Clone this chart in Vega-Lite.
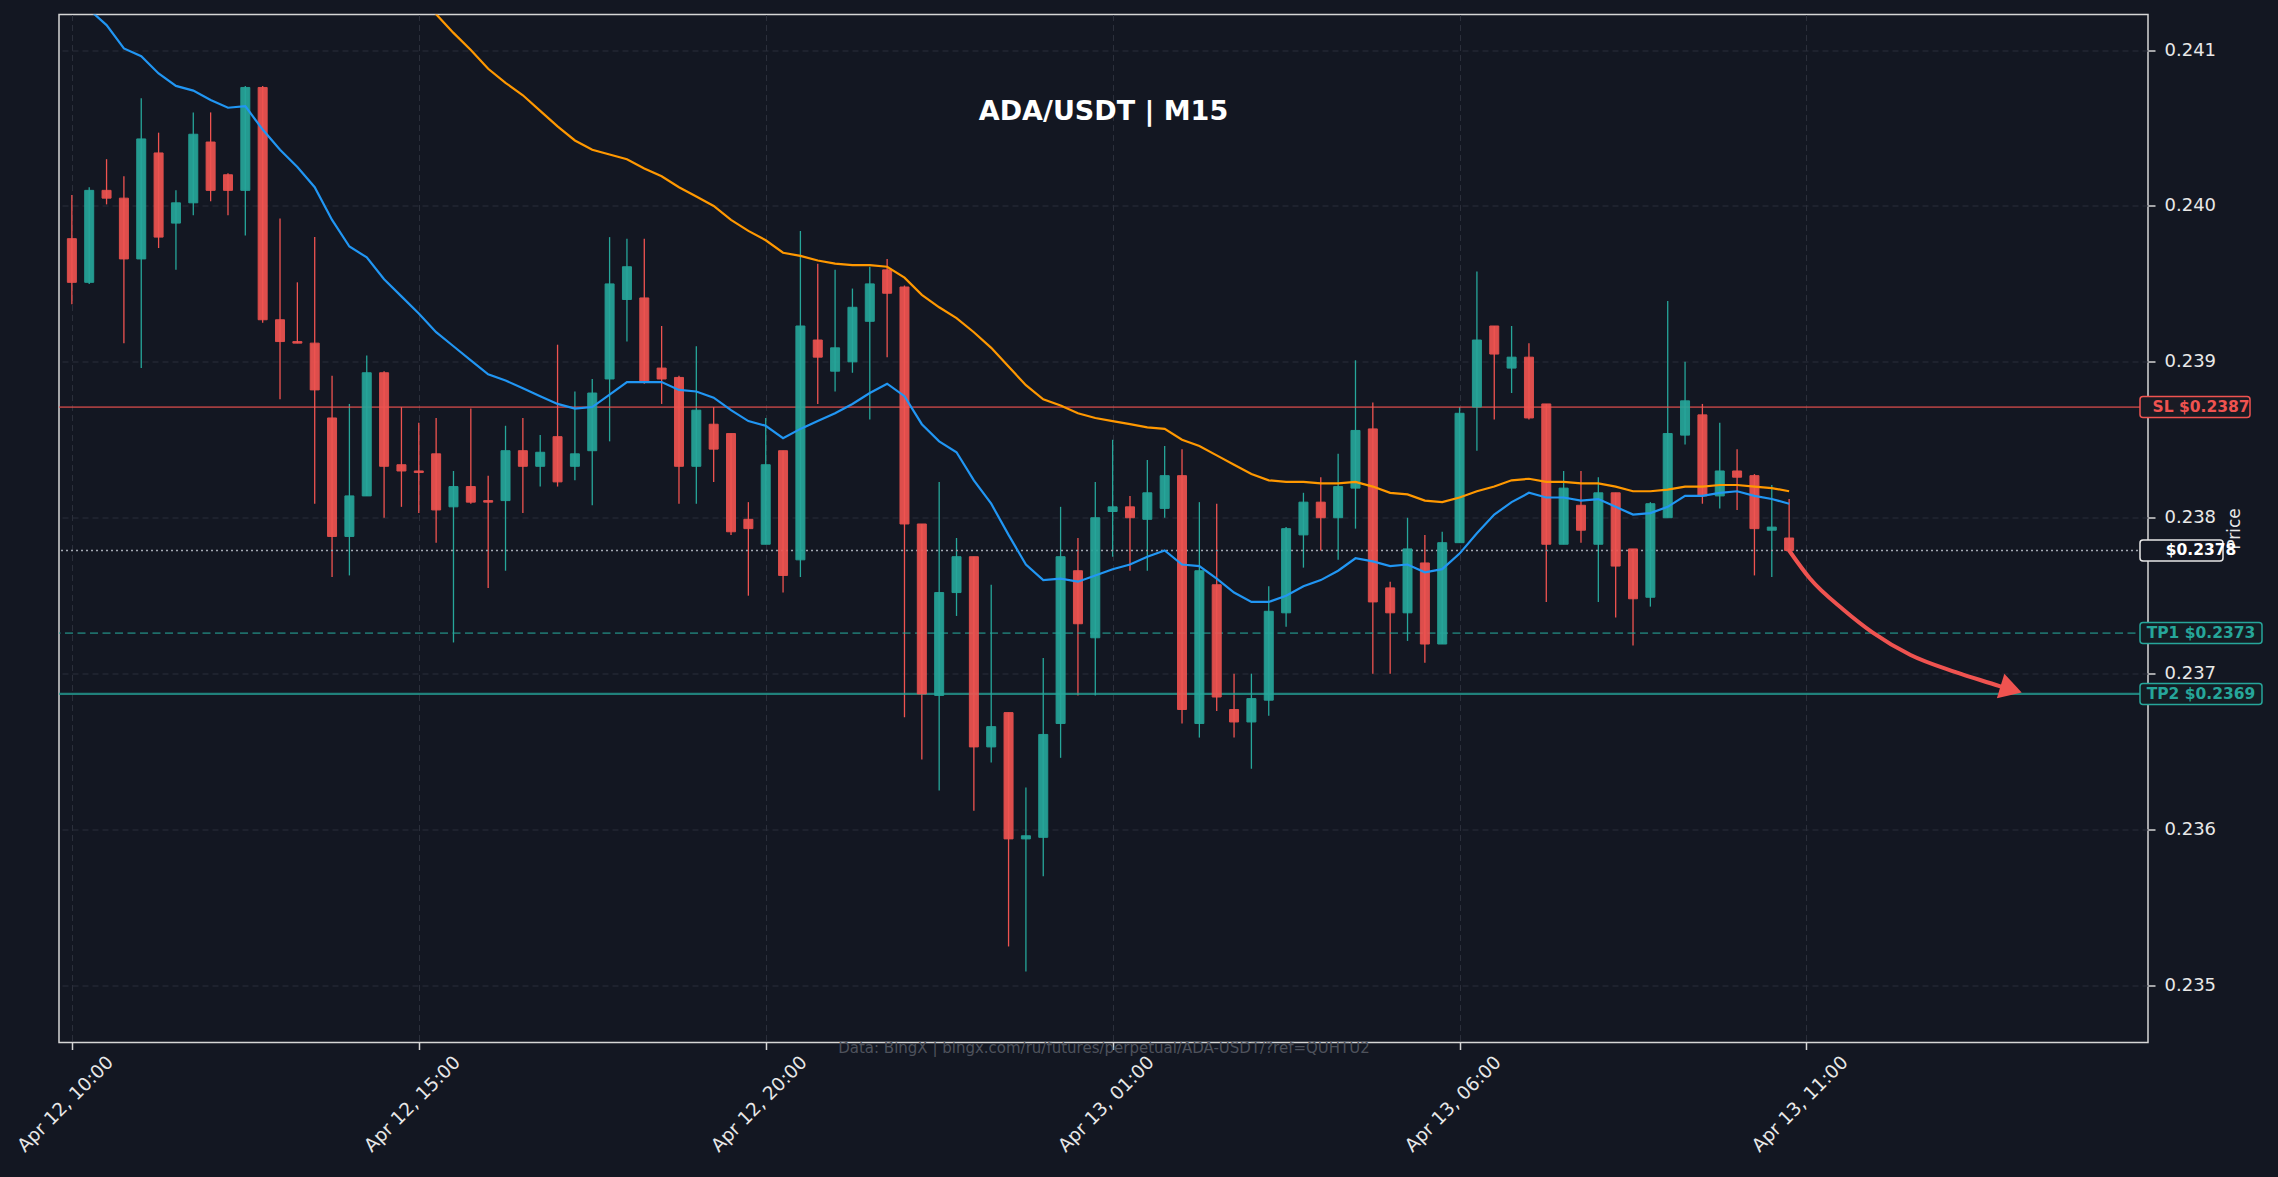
{
  "$schema": "https://vega.github.io/schema/vega-lite/v6.json",
  "description": "ADA/USDT 15-minute candles with EMA lines and SL / TP levels.",
  "autosize": "none",
  "width": 2089,
  "height": 1028,
  "padding": {"left": 59, "top": 14.5, "right": 130, "bottom": 134.5},
  "background": "#131722",
  "title": {
    "text": "ADA/USDT | M15",
    "anchor": "middle",
    "frame": "group",
    "offset": 0,
    "baseline": "alphabetic",
    "dy": 132.5,
    "fontSize": 27,
    "fontWeight": "bold",
    "color": "#ffffff"
  },
  "datasets": {
    "candles": [
      {"t": "2025-04-12T10:00", "o": 0.23979, "h": 0.24007, "l": 0.23937, "c": 0.23951, "m1": 0.24138},
      {"t": "2025-04-12T10:15", "o": 0.23951, "h": 0.24012, "l": 0.2395, "c": 0.2401, "m1": 0.24126},
      {"t": "2025-04-12T10:30", "o": 0.2401, "h": 0.2403, "l": 0.24001, "c": 0.24005, "m1": 0.24116},
      {"t": "2025-04-12T10:45", "o": 0.24005, "h": 0.24019, "l": 0.23912, "c": 0.23966, "m1": 0.24101},
      {"t": "2025-04-12T11:00", "o": 0.23966, "h": 0.24069, "l": 0.23896, "c": 0.24043, "m1": 0.24096},
      {"t": "2025-04-12T11:15", "o": 0.24034, "h": 0.24047, "l": 0.23973, "c": 0.2398, "m1": 0.24085},
      {"t": "2025-04-12T11:30", "o": 0.23989, "h": 0.2401, "l": 0.23959, "c": 0.24002, "m1": 0.24077},
      {"t": "2025-04-12T11:45", "o": 0.24002, "h": 0.2406, "l": 0.23994, "c": 0.24046, "m1": 0.24074},
      {"t": "2025-04-12T12:00", "o": 0.24041, "h": 0.2406, "l": 0.24003, "c": 0.2401, "m1": 0.24068},
      {"t": "2025-04-12T12:15", "o": 0.2402, "h": 0.24021, "l": 0.23994, "c": 0.2401, "m1": 0.24063},
      {"t": "2025-04-12T12:30", "o": 0.2401, "h": 0.24077, "l": 0.23981, "c": 0.24076, "m1": 0.24064},
      {"t": "2025-04-12T12:45", "o": 0.24076, "h": 0.24077, "l": 0.23925, "c": 0.23927, "m1": 0.24049},
      {"t": "2025-04-12T13:00", "o": 0.23927, "h": 0.23992, "l": 0.23876, "c": 0.23913, "m1": 0.24036},
      {"t": "2025-04-12T13:15", "o": 0.23913, "h": 0.23951, "l": 0.23912, "c": 0.23912, "m1": 0.24025},
      {"t": "2025-04-12T13:30", "o": 0.23912, "h": 0.2398, "l": 0.23809, "c": 0.23882, "m1": 0.24012},
      {"t": "2025-04-12T13:45", "o": 0.23864, "h": 0.23891, "l": 0.23762, "c": 0.23788, "m1": 0.23991},
      {"t": "2025-04-12T14:00", "o": 0.23788, "h": 0.23873, "l": 0.23763, "c": 0.23814, "m1": 0.23974},
      {"t": "2025-04-12T14:15", "o": 0.23814, "h": 0.23904, "l": 0.23814, "c": 0.23893, "m1": 0.23967},
      {"t": "2025-04-12T14:30", "o": 0.23893, "h": 0.23894, "l": 0.238, "c": 0.23833, "m1": 0.23953},
      {"t": "2025-04-12T14:45", "o": 0.23834, "h": 0.23871, "l": 0.23807, "c": 0.2383, "m1": 0.23942, "m2": 0.24148},
      {"t": "2025-04-12T15:00", "o": 0.2383, "h": 0.23861, "l": 0.23803, "c": 0.23829, "m1": 0.23931, "m2": 0.24135},
      {"t": "2025-04-12T15:15", "o": 0.23841, "h": 0.23864, "l": 0.23784, "c": 0.23805, "m1": 0.23919, "m2": 0.24123},
      {"t": "2025-04-12T15:30", "o": 0.23807, "h": 0.2383, "l": 0.2372, "c": 0.2382, "m1": 0.2391, "m2": 0.24111},
      {"t": "2025-04-12T15:45", "o": 0.2382, "h": 0.2387, "l": 0.23809, "c": 0.2381, "m1": 0.23901, "m2": 0.241},
      {"t": "2025-04-12T16:00", "o": 0.23811, "h": 0.23827, "l": 0.23755, "c": 0.2381, "m1": 0.23892, "m2": 0.24088},
      {"t": "2025-04-12T16:15", "o": 0.23811, "h": 0.23859, "l": 0.23766, "c": 0.23843, "m1": 0.23888, "m2": 0.24079},
      {"t": "2025-04-12T16:30", "o": 0.23843, "h": 0.23864, "l": 0.23803, "c": 0.23833, "m1": 0.23883, "m2": 0.24071},
      {"t": "2025-04-12T16:45", "o": 0.23833, "h": 0.23853, "l": 0.2382, "c": 0.23842, "m1": 0.23878, "m2": 0.24061},
      {"t": "2025-04-12T17:00", "o": 0.23852, "h": 0.23911, "l": 0.2382, "c": 0.23823, "m1": 0.23873, "m2": 0.24051},
      {"t": "2025-04-12T17:15", "o": 0.23833, "h": 0.23881, "l": 0.23824, "c": 0.23841, "m1": 0.2387, "m2": 0.24042},
      {"t": "2025-04-12T17:30", "o": 0.23843, "h": 0.23889, "l": 0.23808, "c": 0.2388, "m1": 0.23871, "m2": 0.24036},
      {"t": "2025-04-12T17:45", "o": 0.23889, "h": 0.2398, "l": 0.23849, "c": 0.2395, "m1": 0.23879, "m2": 0.24033},
      {"t": "2025-04-12T18:00", "o": 0.2394, "h": 0.23979, "l": 0.23913, "c": 0.23961, "m1": 0.23887, "m2": 0.2403},
      {"t": "2025-04-12T18:15", "o": 0.23941, "h": 0.23979, "l": 0.23886, "c": 0.23887, "m1": 0.23887, "m2": 0.24024},
      {"t": "2025-04-12T18:30", "o": 0.23896, "h": 0.23923, "l": 0.23873, "c": 0.23889, "m1": 0.23887, "m2": 0.24019},
      {"t": "2025-04-12T18:45", "o": 0.2389, "h": 0.23891, "l": 0.23809, "c": 0.23833, "m1": 0.23882, "m2": 0.24012},
      {"t": "2025-04-12T19:00", "o": 0.23833, "h": 0.2391, "l": 0.23809, "c": 0.23869, "m1": 0.23881, "m2": 0.24006},
      {"t": "2025-04-12T19:15", "o": 0.2386, "h": 0.23871, "l": 0.23823, "c": 0.23844, "m1": 0.23877, "m2": 0.24},
      {"t": "2025-04-12T19:30", "o": 0.23854, "h": 0.23854, "l": 0.23789, "c": 0.23791, "m1": 0.23869, "m2": 0.23991},
      {"t": "2025-04-12T19:45", "o": 0.23799, "h": 0.2381, "l": 0.2375, "c": 0.23793, "m1": 0.23862, "m2": 0.23984},
      {"t": "2025-04-12T20:00", "o": 0.23783, "h": 0.23864, "l": 0.23783, "c": 0.23834, "m1": 0.23859, "m2": 0.23978},
      {"t": "2025-04-12T20:15", "o": 0.23843, "h": 0.23843, "l": 0.23752, "c": 0.23763, "m1": 0.23851, "m2": 0.2397},
      {"t": "2025-04-12T20:30", "o": 0.23773, "h": 0.23984, "l": 0.23762, "c": 0.23923, "m1": 0.23857, "m2": 0.23968},
      {"t": "2025-04-12T20:45", "o": 0.23914, "h": 0.23963, "l": 0.23873, "c": 0.23903, "m1": 0.23862, "m2": 0.23965},
      {"t": "2025-04-12T21:00", "o": 0.23894, "h": 0.23959, "l": 0.23881, "c": 0.23909, "m1": 0.23867, "m2": 0.23963},
      {"t": "2025-04-12T21:15", "o": 0.239, "h": 0.23947, "l": 0.23893, "c": 0.23935, "m1": 0.23873, "m2": 0.23962},
      {"t": "2025-04-12T21:30", "o": 0.23926, "h": 0.23961, "l": 0.23863, "c": 0.2395, "m1": 0.2388, "m2": 0.23962},
      {"t": "2025-04-12T21:45", "o": 0.23959, "h": 0.23966, "l": 0.23903, "c": 0.23944, "m1": 0.23886, "m2": 0.23961},
      {"t": "2025-04-12T22:00", "o": 0.23948, "h": 0.23949, "l": 0.23672, "c": 0.23796, "m1": 0.23878, "m2": 0.23954},
      {"t": "2025-04-12T22:15", "o": 0.23796, "h": 0.23796, "l": 0.23645, "c": 0.23687, "m1": 0.2386, "m2": 0.23943},
      {"t": "2025-04-12T22:30", "o": 0.23686, "h": 0.23823, "l": 0.23625, "c": 0.23752, "m1": 0.23849, "m2": 0.23935},
      {"t": "2025-04-12T22:45", "o": 0.23752, "h": 0.23787, "l": 0.23737, "c": 0.23775, "m1": 0.23842, "m2": 0.23928},
      {"t": "2025-04-12T23:00", "o": 0.23775, "h": 0.23775, "l": 0.23612, "c": 0.23653, "m1": 0.23824, "m2": 0.23919},
      {"t": "2025-04-12T23:15", "o": 0.23653, "h": 0.23757, "l": 0.23643, "c": 0.23666, "m1": 0.23809, "m2": 0.23909},
      {"t": "2025-04-12T23:30", "o": 0.23675, "h": 0.23675, "l": 0.23525, "c": 0.23594, "m1": 0.23789, "m2": 0.23897},
      {"t": "2025-04-12T23:45", "o": 0.23594, "h": 0.23627, "l": 0.23509, "c": 0.23596, "m1": 0.2377, "m2": 0.23885},
      {"t": "2025-04-13T00:00", "o": 0.23595, "h": 0.2371, "l": 0.2357, "c": 0.23661, "m1": 0.2376, "m2": 0.23876},
      {"t": "2025-04-13T00:15", "o": 0.23668, "h": 0.23807, "l": 0.23646, "c": 0.23775, "m1": 0.23761, "m2": 0.23872},
      {"t": "2025-04-13T00:30", "o": 0.23766, "h": 0.23787, "l": 0.23686, "c": 0.23732, "m1": 0.23759, "m2": 0.23867},
      {"t": "2025-04-13T00:45", "o": 0.23723, "h": 0.23823, "l": 0.23686, "c": 0.238, "m1": 0.23763, "m2": 0.23864},
      {"t": "2025-04-13T01:00", "o": 0.23804, "h": 0.2385, "l": 0.23775, "c": 0.23807, "m1": 0.23767, "m2": 0.23862},
      {"t": "2025-04-13T01:15", "o": 0.23807, "h": 0.23814, "l": 0.23766, "c": 0.238, "m1": 0.2377, "m2": 0.2386},
      {"t": "2025-04-13T01:30", "o": 0.23799, "h": 0.23837, "l": 0.23766, "c": 0.23816, "m1": 0.23775, "m2": 0.23858},
      {"t": "2025-04-13T01:45", "o": 0.23806, "h": 0.23846, "l": 0.238, "c": 0.23827, "m1": 0.23779, "m2": 0.23857},
      {"t": "2025-04-13T02:00", "o": 0.23827, "h": 0.23844, "l": 0.23668, "c": 0.23677, "m1": 0.2377, "m2": 0.2385},
      {"t": "2025-04-13T02:15", "o": 0.23668, "h": 0.2381, "l": 0.23659, "c": 0.23766, "m1": 0.23769, "m2": 0.23846},
      {"t": "2025-04-13T02:30", "o": 0.23757, "h": 0.23809, "l": 0.23676, "c": 0.23685, "m1": 0.23761, "m2": 0.2384},
      {"t": "2025-04-13T02:45", "o": 0.23677, "h": 0.237, "l": 0.23659, "c": 0.23669, "m1": 0.23752, "m2": 0.23834},
      {"t": "2025-04-13T03:00", "o": 0.23669, "h": 0.237, "l": 0.23639, "c": 0.23684, "m1": 0.23746, "m2": 0.23828},
      {"t": "2025-04-13T03:15", "o": 0.23683, "h": 0.23756, "l": 0.23673, "c": 0.2374, "m1": 0.23746, "m2": 0.23824},
      {"t": "2025-04-13T03:30", "o": 0.23739, "h": 0.23794, "l": 0.2373, "c": 0.23793, "m1": 0.2375, "m2": 0.23823},
      {"t": "2025-04-13T03:45", "o": 0.23789, "h": 0.23816, "l": 0.23768, "c": 0.2381, "m1": 0.23756, "m2": 0.23823},
      {"t": "2025-04-13T04:00", "o": 0.2381, "h": 0.23826, "l": 0.23779, "c": 0.238, "m1": 0.2376, "m2": 0.23822},
      {"t": "2025-04-13T04:15", "o": 0.238, "h": 0.23841, "l": 0.23773, "c": 0.2382, "m1": 0.23766, "m2": 0.23822},
      {"t": "2025-04-13T04:30", "o": 0.23819, "h": 0.23901, "l": 0.23793, "c": 0.23856, "m1": 0.23774, "m2": 0.23823},
      {"t": "2025-04-13T04:45", "o": 0.23857, "h": 0.23874, "l": 0.237, "c": 0.23746, "m1": 0.23772, "m2": 0.2382},
      {"t": "2025-04-13T05:00", "o": 0.23755, "h": 0.23759, "l": 0.237, "c": 0.23739, "m1": 0.23769, "m2": 0.23816},
      {"t": "2025-04-13T05:15", "o": 0.23739, "h": 0.238, "l": 0.23721, "c": 0.2378, "m1": 0.2377, "m2": 0.23815},
      {"t": "2025-04-13T05:30", "o": 0.23771, "h": 0.23789, "l": 0.23707, "c": 0.23719, "m1": 0.23765, "m2": 0.23811},
      {"t": "2025-04-13T05:45", "o": 0.23719, "h": 0.23791, "l": 0.23719, "c": 0.23784, "m1": 0.23767, "m2": 0.2381},
      {"t": "2025-04-13T06:00", "o": 0.23784, "h": 0.23871, "l": 0.23784, "c": 0.23867, "m1": 0.23777, "m2": 0.23813},
      {"t": "2025-04-13T06:15", "o": 0.23871, "h": 0.23958, "l": 0.23843, "c": 0.23914, "m1": 0.2379, "m2": 0.23817},
      {"t": "2025-04-13T06:30", "o": 0.23923, "h": 0.23923, "l": 0.23863, "c": 0.23905, "m1": 0.23802, "m2": 0.2382},
      {"t": "2025-04-13T06:45", "o": 0.23896, "h": 0.23923, "l": 0.2388, "c": 0.23903, "m1": 0.2381, "m2": 0.23824},
      {"t": "2025-04-13T07:00", "o": 0.23903, "h": 0.23912, "l": 0.23863, "c": 0.23864, "m1": 0.23816, "m2": 0.23825},
      {"t": "2025-04-13T07:15", "o": 0.23873, "h": 0.23873, "l": 0.23746, "c": 0.23783, "m1": 0.23813, "m2": 0.23823},
      {"t": "2025-04-13T07:30", "o": 0.23783, "h": 0.2383, "l": 0.23783, "c": 0.23819, "m1": 0.23813, "m2": 0.23823},
      {"t": "2025-04-13T07:45", "o": 0.23808, "h": 0.2383, "l": 0.23784, "c": 0.23792, "m1": 0.23811, "m2": 0.23822},
      {"t": "2025-04-13T08:00", "o": 0.23783, "h": 0.23826, "l": 0.23746, "c": 0.23816, "m1": 0.23812, "m2": 0.23822},
      {"t": "2025-04-13T08:15", "o": 0.23816, "h": 0.23816, "l": 0.23736, "c": 0.23769, "m1": 0.23807, "m2": 0.2382},
      {"t": "2025-04-13T08:30", "o": 0.2378, "h": 0.2378, "l": 0.23718, "c": 0.23748, "m1": 0.23802, "m2": 0.23817},
      {"t": "2025-04-13T08:45", "o": 0.23749, "h": 0.2381, "l": 0.23743, "c": 0.23809, "m1": 0.23803, "m2": 0.23817},
      {"t": "2025-04-13T09:00", "o": 0.238, "h": 0.23939, "l": 0.238, "c": 0.23854, "m1": 0.23807, "m2": 0.23818},
      {"t": "2025-04-13T09:15", "o": 0.23853, "h": 0.239, "l": 0.23847, "c": 0.23875, "m1": 0.23814, "m2": 0.2382},
      {"t": "2025-04-13T09:30", "o": 0.23866, "h": 0.23873, "l": 0.23809, "c": 0.23814, "m1": 0.23814, "m2": 0.2382},
      {"t": "2025-04-13T09:45", "o": 0.23814, "h": 0.23861, "l": 0.23806, "c": 0.2383, "m1": 0.23816, "m2": 0.23821},
      {"t": "2025-04-13T10:00", "o": 0.2383, "h": 0.23844, "l": 0.23805, "c": 0.23826, "m1": 0.23817, "m2": 0.23821},
      {"t": "2025-04-13T10:15", "o": 0.23827, "h": 0.23828, "l": 0.23763, "c": 0.23793, "m1": 0.23814, "m2": 0.2382},
      {"t": "2025-04-13T10:30", "o": 0.23792, "h": 0.23821, "l": 0.23762, "c": 0.23794, "m1": 0.23812, "m2": 0.23819},
      {"t": "2025-04-13T10:45", "o": 0.23787, "h": 0.23812, "l": 0.23779, "c": 0.23779, "m1": 0.23809, "m2": 0.23817}
    ],
    "levels": [
      {"name": "SL", "p": 0.23871, "label": "SL $0.2387"},
      {"name": "TP1", "p": 0.23726, "label": "TP1 $0.2373"},
      {"name": "TP2", "p": 0.23687, "label": "TP2 $0.2369"},
      {"name": "Price", "p": 0.23779, "label": "$0.2378"}
    ],
    "arrow": [
      {"t": "2025-04-13T10:45", "p": 0.23779},
      {"t": "2025-04-13T11:03", "p": 0.23761},
      {"t": "2025-04-13T11:32", "p": 0.23741},
      {"t": "2025-04-13T11:57", "p": 0.237265},
      {"t": "2025-04-13T12:30", "p": 0.23712},
      {"t": "2025-04-13T13:09", "p": 0.23701},
      {"t": "2025-04-13T13:47", "p": 0.23692},
      {"t": "2025-04-13T13:55", "p": 0.2369}
    ],
    "arrowhead": [
      {"t": "2025-04-13T13:57", "p": 0.2369}
    ]
  },
  "layer": [
    {
      "data": {"name": "candles"},
      "mark": {"type": "rule", "strokeWidth": 1.3},
      "encoding": {
        "x": {
          "field": "t",
          "type": "temporal",
          "scale": {"domain": [
            {"year": 2025, "month": 4, "date": 12, "hours": 9, "minutes": 53, "seconds": 12},
            {"year": 2025, "month": 4, "date": 13, "hours": 15, "minutes": 51}
          ]},
          "axis": {
            "values": [
              {"year": 2025, "month": 4, "date": 12, "hours": 10},
              {"year": 2025, "month": 4, "date": 12, "hours": 15},
              {"year": 2025, "month": 4, "date": 12, "hours": 20},
              {"year": 2025, "month": 4, "date": 13, "hours": 1},
              {"year": 2025, "month": 4, "date": 13, "hours": 6},
              {"year": 2025, "month": 4, "date": 13, "hours": 11}
            ],
            "format": "%b %d, %H:%M",
            "labelAngle": -45,
            "labelAlign": "center",
            "labelBaseline": "middle",
            "labelPadding": 54,
            "labelOffset": -7,
            "labelFontSize": 18.5,
            "labelOverlap": false,
            "labelFlush": false,
            "labelBound": false,
            "title": "Data: BingX | bingx.com/ru/futures/perpetual/ADA-USDT/?ref=QUHTU2",
            "titleX": 1044.5,
            "titleY": 9.5,
            "titleAlign": "center",
            "titleBaseline": "alphabetic",
            "titleFontSize": 15,
            "titleFontWeight": "normal",
            "titleColor": "#4e525c"
          }
        },
        "y": {
          "field": "l",
          "type": "quantitative",
          "scale": {"domain": [0.234634, 0.241228], "zero": false, "nice": false},
          "axis": {
            "orient": "right",
            "values": [0.235, 0.236, 0.237, 0.238, 0.239, 0.24, 0.241],
            "format": ".3f",
            "labelFontSize": 18,
            "labelPadding": 9,
            "title": "Price",
            "titleAngle": 270,
            "titleX": 86,
            "titleY": 514,
            "titleAlign": "center",
            "titleBaseline": "middle",
            "titleFontSize": 17,
            "titleFontWeight": "normal",
            "titleColor": "#e8e8e8"
          }
        },
        "y2": {"field": "h"},
        "color": {"condition": {"test": "datum.o > datum.c", "value": "#ef5350"}, "value": "#26a69a"}
      }
    },
    {
      "data": {"name": "levels"},
      "transform": [{"filter": "datum.name === 'SL'"}],
      "mark": {"type": "rule", "color": "#ef5350", "opacity": 0.65, "strokeWidth": 1.8},
      "encoding": {
        "y": {"field": "p", "type": "quantitative", "scale": {"domain": [0.234634, 0.241228], "zero": false, "nice": false}}
      }
    },
    {
      "data": {"name": "levels"},
      "transform": [{"filter": "datum.name === 'TP1'"}],
      "mark": {"type": "rule", "color": "#26a69a", "opacity": 0.6, "strokeWidth": 1.8, "strokeDash": [8, 4.5]},
      "encoding": {
        "y": {"field": "p", "type": "quantitative", "scale": {"domain": [0.234634, 0.241228], "zero": false, "nice": false}}
      }
    },
    {
      "data": {"name": "levels"},
      "transform": [{"filter": "datum.name === 'TP2'"}],
      "mark": {"type": "rule", "color": "#26a69a", "opacity": 0.75, "strokeWidth": 2.2},
      "encoding": {
        "y": {"field": "p", "type": "quantitative", "scale": {"domain": [0.234634, 0.241228], "zero": false, "nice": false}}
      }
    },
    {
      "data": {"name": "levels"},
      "transform": [{"filter": "datum.name === 'Price'"}],
      "mark": {"type": "rule", "color": "#a3a8b2", "strokeWidth": 1.4, "strokeDash": [2, 3]},
      "encoding": {
        "y": {"field": "p", "type": "quantitative", "scale": {"domain": [0.234634, 0.241228], "zero": false, "nice": false}}
      }
    },
    {
      "data": {"name": "candles"},
      "mark": {"type": "bar", "width": 9, "strokeWidth": 1, "opacity": 0.92},
      "encoding": {
        "x": {"field": "t", "type": "temporal"},
        "y": {"field": "o", "type": "quantitative", "scale": {"domain": [0.234634, 0.241228], "zero": false, "nice": false}},
        "y2": {"field": "c"},
        "color": {"condition": {"test": "datum.o > datum.c", "value": "#ef5350"}, "value": "#26a69a"},
        "stroke": {"condition": {"test": "datum.o > datum.c", "value": "#ef5350"}, "value": "#26a69a"}
      }
    },
    {
      "data": {"name": "candles"},
      "mark": {"type": "line", "color": "#2196f3", "strokeWidth": 2.2, "clip": true},
      "encoding": {
        "x": {"field": "t", "type": "temporal"},
        "y": {"field": "m1", "type": "quantitative", "scale": {"domain": [0.234634, 0.241228], "zero": false, "nice": false}}
      }
    },
    {
      "data": {"name": "candles"},
      "mark": {"type": "line", "color": "#ff9800", "strokeWidth": 2.2, "clip": true},
      "encoding": {
        "x": {"field": "t", "type": "temporal"},
        "y": {"field": "m2", "type": "quantitative", "scale": {"domain": [0.234634, 0.241228], "zero": false, "nice": false}}
      }
    },
    {
      "data": {"name": "arrow"},
      "mark": {"type": "line", "color": "#ef5350", "strokeWidth": 4, "interpolate": "monotone", "strokeCap": "round"},
      "encoding": {
        "x": {"field": "t", "type": "temporal"},
        "y": {"field": "p", "type": "quantitative", "scale": {"domain": [0.234634, 0.241228], "zero": false, "nice": false}}
      }
    },
    {
      "data": {"name": "arrowhead"},
      "mark": {"type": "point", "shape": "triangle-right", "size": 650, "angle": 17, "filled": true, "color": "#ef5350", "opacity": 1},
      "encoding": {
        "x": {"field": "t", "type": "temporal"},
        "y": {"field": "p", "type": "quantitative", "scale": {"domain": [0.234634, 0.241228], "zero": false, "nice": false}}
      }
    },
    {
      "data": {"name": "levels"},
      "transform": [{"filter": "datum.name === 'SL'"}],
      "mark": {"type": "rect", "xOffset": -3, "x2Offset": 107, "yOffset": -10.5, "y2Offset": 10.5, "fill": "#1a1b24", "stroke": "#ef5350", "strokeWidth": 1.5, "cornerRadius": 3},
      "encoding": {
        "x": {"datum": {"year": 2025, "month": 4, "date": 13, "hours": 15, "minutes": 51}, "type": "temporal"},
        "x2": {"datum": {"year": 2025, "month": 4, "date": 13, "hours": 15, "minutes": 51}},
        "y": {"field": "p", "type": "quantitative", "scale": {"domain": [0.234634, 0.241228], "zero": false, "nice": false}},
        "y2": {"field": "p"}
      }
    },
    {
      "data": {"name": "levels"},
      "transform": [{"filter": "datum.name === 'TP1' || datum.name === 'TP2'"}],
      "mark": {"type": "rect", "xOffset": -3, "x2Offset": 119, "yOffset": -10.5, "y2Offset": 10.5, "fill": "#141d24", "stroke": "#26a69a", "strokeWidth": 1.5, "cornerRadius": 3},
      "encoding": {
        "x": {"datum": {"year": 2025, "month": 4, "date": 13, "hours": 15, "minutes": 51}, "type": "temporal"},
        "x2": {"datum": {"year": 2025, "month": 4, "date": 13, "hours": 15, "minutes": 51}},
        "y": {"field": "p", "type": "quantitative", "scale": {"domain": [0.234634, 0.241228], "zero": false, "nice": false}},
        "y2": {"field": "p"}
      }
    },
    {
      "data": {"name": "levels"},
      "transform": [{"filter": "datum.name === 'Price'"}],
      "mark": {"type": "rect", "xOffset": -3, "x2Offset": 80, "yOffset": -10.5, "y2Offset": 10.5, "fill": "#131722", "stroke": "#e8e8e8", "strokeWidth": 1.5, "cornerRadius": 3},
      "encoding": {
        "x": {"datum": {"year": 2025, "month": 4, "date": 13, "hours": 15, "minutes": 51}, "type": "temporal"},
        "x2": {"datum": {"year": 2025, "month": 4, "date": 13, "hours": 15, "minutes": 51}},
        "y": {"field": "p", "type": "quantitative", "scale": {"domain": [0.234634, 0.241228], "zero": false, "nice": false}},
        "y2": {"field": "p"}
      }
    },
    {
      "data": {"name": "levels"},
      "mark": {"type": "text", "align": "center", "baseline": "middle", "fontWeight": "bold", "fontSize": 15.5},
      "encoding": {
        "x": {"datum": {"year": 2025, "month": 4, "date": 13, "hours": 15, "minutes": 51}, "type": "temporal"},
        "y": {"field": "p", "type": "quantitative", "scale": {"domain": [0.234634, 0.241228], "zero": false, "nice": false}},
        "text": {"field": "label"},
        "xOffset": {
          "condition": [
            {"test": "datum.name === 'SL'", "value": 52},
            {"test": "datum.name === 'Price'", "value": 38.5}
          ],
          "value": 58
        },
        "color": {
          "condition": [
            {"test": "datum.name === 'SL'", "value": "#ef5350"},
            {"test": "datum.name === 'Price'", "value": "#ffffff"}
          ],
          "value": "#26a69a"
        }
      }
    }
  ],
  "config": {
    "font": "DejaVu Sans",
    "view": {"stroke": "#d6d6d6", "strokeWidth": 1.5, "fill": "#131722"},
    "axis": {
      "grid": true,
      "gridColor": "#2b2f3b",
      "gridDash": [6, 4],
      "gridWidth": 1,
      "domain": false,
      "ticks": true,
      "tickColor": "#d6d6d6",
      "tickWidth": 1.5,
      "tickSize": 7,
      "labelColor": "#e8e8e8"
    }
  }
}
